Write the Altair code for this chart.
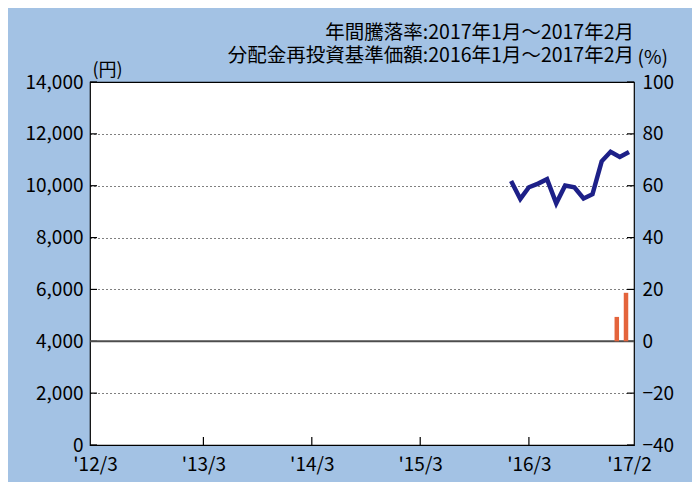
import altair as alt
import pandas as pd

# ---- data ----
line_months = ["2016/01/01", "2016/02/01", "2016/03/01", "2016/04/01", "2016/05/01",
               "2016/06/01", "2016/07/01", "2016/08/01", "2016/09/01", "2016/10/01",
               "2016/11/01", "2016/12/01", "2017/01/01", "2017/02/01"]
nav_values = [10180, 9490, 9940, 10080, 10250, 9320, 10010, 9940, 9510, 9670,
              10940, 11310, 11110, 11300]

bar_months = ["2017/01/01", "2017/02/01"]
return_values = [9.4, 18.7]

left_ticks = [0, 2000, 4000, 6000, 8000, 10000, 12000, 14000]
right_ticks = [-40, -20, 0, 20, 40, 60, 80, 100]
x_tick_dates = ["2013/03/01", "2014/03/01", "2015/03/01", "2016/03/01"]

title_lines = ["年間騰落率:2017年1月～2017年2月", "分配金再投資基準価額:2016年1月～2017年2月"]

W, H = 544, 363
NUM_FONT = "Noto Sans CJK JP"
JP_FONT = "Noto Sans CJK JP"

line_df = pd.DataFrame({"date": line_months, "nav": nav_values})
bar_df = pd.DataFrame({"date": bar_months, "ret": return_values})
lt_df = pd.DataFrame({"v": left_ticks})
xt_df = pd.DataFrame({"date": x_tick_dates})
zero_df = pd.DataFrame({"z": [0]})

x_scale = alt.Scale(domain=[alt.DateTime(year=2012, month=3, date=1),
                            alt.DateTime(year=2017, month=2, date=1)])
x_axis = alt.Axis(
    values=[alt.DateTime(year=2012, month=3, date=1), alt.DateTime(year=2013, month=3, date=1),
            alt.DateTime(year=2014, month=3, date=1), alt.DateTime(year=2015, month=3, date=1),
            alt.DateTime(year=2016, month=3, date=1), alt.DateTime(year=2017, month=2, date=1)],
    labelExpr="\"'\" + timeFormat(datum.value, '%y') + '/' + (month(datum.value) + 1)",
    title=None, grid=False, domain=False, ticks=False, labelFlush=False, labelOverlap=False,
    labelFont=NUM_FONT, labelFontSize=19, labelColor="#000000", labelPadding=10,
)

y_left_scale = alt.Scale(domain=[0, 14000], nice=False)
y_left_axis = alt.Axis(
    values=left_ticks, labelExpr="format(datum.value, ',.0f')", title="(円)", titleAngle=0,
    titleAlign="left", titleBaseline="bottom", titleX=2, titleY=-3, titleFont=JP_FONT,
    titleFontSize=18, titleFontWeight="normal", titleColor="#000000",
    grid=True, gridDash=[1, 3], gridColor="#000000", gridWidth=1, gridOpacity=1,
    domain=False, ticks=False, labelFont=NUM_FONT, labelFontSize=19, labelColor="#000000",
    labelPadding=7,
)

y_right_scale = alt.Scale(domain=[-40, 100], nice=False)
y_right_axis = alt.Axis(
    values=right_ticks, labelExpr="format(datum.value, 'd')", orient="right", title="(%)",
    titleAngle=0, titleAlign="left", titleBaseline="bottom", titleX=3, titleY=-15,
    titleFont=JP_FONT, titleFontSize=19, titleFontWeight="normal", titleColor="#000000",
    grid=False, domain=False, ticks=False, labelFont=NUM_FONT, labelFontSize=19,
    labelColor="#000000", labelPadding=8,
)

x_enc = alt.X("date:T", scale=x_scale, axis=x_axis)

line = alt.Chart(line_df).mark_line(color="#1d2088", strokeWidth=4.5, strokeJoin="miter").encode(
    x=x_enc,
    y=alt.Y("nav:Q", scale=y_left_scale, axis=y_left_axis),
)

left_inner_ticks = alt.Chart(lt_df).mark_rule(color="#000000", strokeWidth=1.2).encode(
    x=alt.value(0), x2=alt.value(7), y=alt.Y("v:Q", scale=y_left_scale, axis=y_left_axis),
)
right_inner_ticks = alt.Chart(lt_df).mark_rule(color="#000000", strokeWidth=1.2).encode(
    x=alt.value(W - 7), x2=alt.value(W), y=alt.Y("v:Q", scale=y_left_scale, axis=y_left_axis),
)
bottom_ticks = alt.Chart(xt_df).mark_rule(color="#000000", strokeWidth=1.2).encode(
    x=alt.X("date:T", scale=x_scale, axis=x_axis), y=alt.value(H), y2=alt.value(H - 8),
)

left_layer = alt.layer(line, left_inner_ticks, right_inner_ticks, bottom_ticks)

bars = alt.Chart(bar_df).mark_bar(color="#e4643c", width=4.5, xOffset=-3).encode(
    x=x_enc,
    y=alt.Y("ret:Q", scale=y_right_scale, axis=y_right_axis),
    y2=alt.datum(0),
)
zero_line = alt.Chart(zero_df).mark_rule(color="#4d4d4d", strokeWidth=2).encode(
    y=alt.Y("z:Q", scale=y_right_scale, axis=y_right_axis),
)
right_layer = alt.layer(zero_line, bars)

chart = alt.layer(left_layer, right_layer).resolve_scale(y="independent").properties(
    width=W, height=H,
    padding={"left": 82, "top": 74, "right": 58, "bottom": 37},
    autosize=alt.AutoSizeParams(type="none"),
    background="#a3c2e4",
    title=alt.TitleParams(
        text=title_lines, anchor="end", frame="group", font=JP_FONT, fontSize=19.5,
        fontWeight="normal", color="#000000", lineHeight=23, offset=-18,
    ),
).configure_view(stroke="#000000", strokeWidth=1.2, fill="#ffffff")

chart.save("out.html", embed_options={"renderer": "svg", "actions": False})
